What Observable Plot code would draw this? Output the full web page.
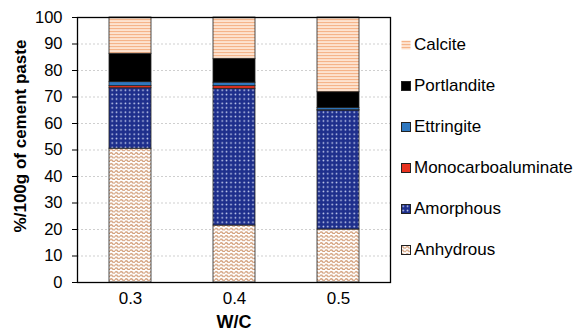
<!DOCTYPE html>
<html><head><meta charset="utf-8">
<script src="https://cdn.jsdelivr.net/npm/d3@7"></script>
<script src="https://cdn.jsdelivr.net/npm/@observablehq/plot@0.6"></script>
<style>
html,body{margin:0;padding:0;background:#fff;}
#wrap{position:relative;width:580px;height:333px;font-family:"Liberation Sans",Arial,sans-serif;}
#legend{position:absolute;left:401px;top:0;}
.item{position:absolute;left:0;display:flex;align-items:center;white-space:nowrap;font-size:17px;color:#000;transform:translateY(-50%);}
.item svg{margin-right:3px;}
.ttl{position:absolute;font-weight:bold;color:#000;white-space:nowrap;}
</style></head>
<body><div id="wrap"></div>
<script>
const wc = ["0.3", "0.4", "0.5"];
const phases = ["Anhydrous", "Amorphous", "Monocarboaluminate", "Ettringite", "Portlandite", "Calcite"];
const anhydrous = [50.5, 21.5, 20.0];
const amorphous = [22.8, 51.6, 44.9];
const monocarboaluminate = [0.8, 1.0, 0.1];
const ettringite = [1.5, 1.3, 0.8];
const portlandite = [10.7, 9.0, 6.0];
const calcite = [13.7, 15.6, 28.2];
const yTicks = [0, 10, 20, 30, 40, 50, 60, 70, 80, 90, 100];

const series = [anhydrous, amorphous, monocarboaluminate, ettringite, portlandite, calcite];
const data = [];
wc.forEach((w, i) => phases.forEach((p, j) => data.push({wc: w, phase: p, value: series[j][i]})));
const patIds = ["pAnh", "pAmo", "pMono", "pEtt", "pPort", "pCal"];

const svg = Plot.plot({
  width: 580, height: 333,
  marginLeft: 77, marginRight: 190, marginTop: 17, marginBottom: 51,
  style: {fontFamily: '"Liberation Sans", Arial, sans-serif', fontSize: "16px", color: "#000", background: "#fff"},
  x: {domain: wc, paddingInner: 0.6, paddingOuter: 0.3, label: null},
  y: {domain: [0, 100], label: null},
  color: {domain: phases, range: patIds.map(id => `url(#${id})`)},
  marks: [
    Plot.ruleY(yTicks.filter(t => t > 0 && t < 100), {stroke: "#cfcfcf", strokeDasharray: "2,2", strokeWidth: 1}),
    Plot.barY(data, {x: "wc", y: "value", fill: "phase", order: phases, stroke: "#222", strokeWidth: 0.8, inset: 0}),
    Plot.frame({stroke: "#000", strokeWidth: 1.3}),
    Plot.axisY({ticks: yTicks, tickSize: 5, tickPadding: 10, label: null, stroke: "#000", fontSize: 16.5}),
    Plot.axisX({tickSize: 0, tickPadding: 9, label: null, fontSize: 17})
  ]
});

d3.select(svg).insert("defs", ":first-child").html(`
  <pattern id="pCal" patternUnits="userSpaceOnUse" width="4" height="3">
    <rect width="4" height="3" fill="#fde3d0"/>
    <rect y="1" width="4" height="1.1" fill="#f5b48a"/>
  </pattern>
  <pattern id="pAnh" patternUnits="userSpaceOnUse" width="5" height="3.6">
    <rect width="5" height="3.6" fill="#fff"/>
    <path d="M0,2.4 Q1.25,0.6 2.5,2.4 T5,2.4" fill="none" stroke="#d29d78" stroke-width="1.4"/>
  </pattern>
  <pattern id="pAmo" patternUnits="userSpaceOnUse" width="4.4" height="4.4">
    <rect width="4.4" height="4.4" fill="#1e2f8c"/>
    <circle cx="2.2" cy="2.2" r="0.85" fill="#d0d8f5"/>
  </pattern>
  <pattern id="pMono" patternUnits="userSpaceOnUse" width="4" height="4">
    <rect width="4" height="4" fill="#e8321f"/>
  </pattern>
  <pattern id="pEtt" patternUnits="userSpaceOnUse" width="4" height="4">
    <rect width="4" height="4" fill="#2f78c0"/>
  </pattern>
  <pattern id="pPort" patternUnits="userSpaceOnUse" width="4" height="4">
    <rect width="4" height="4" fill="#000"/>
  </pattern>
`);
d3.select(svg).selectAll("text").attr("fill", "#000");

const wrap = document.getElementById("wrap");
wrap.appendChild(svg);

// axis titles
const yt = document.createElement("div");
yt.className = "ttl";
yt.textContent = "%/100g of cement paste";
yt.style.fontSize = "17px";
yt.style.left = "21px"; yt.style.top = "136px";
yt.style.transform = "translate(-50%,-50%) rotate(-90deg)";
wrap.appendChild(yt);
const xt = document.createElement("div");
xt.className = "ttl";
xt.textContent = "W/C";
xt.style.fontSize = "18px";
xt.style.left = "234px"; xt.style.top = "322px";
xt.style.transform = "translate(-50%,-50%)";
wrap.appendChild(xt);

// legend
const legend = document.createElement("div");
legend.id = "legend";
wrap.appendChild(legend);
const legendOrder = [...phases].reverse();
const legendY = [45, 86, 127, 168, 209, 250];
legendOrder.forEach((p, k) => {
  const j = phases.indexOf(p);
  const it = document.createElement("div");
  it.className = "item";
  it.style.top = legendY[k] + "px";
  const border = p === "Calcite" ? "none" : "#222";
  it.innerHTML = `<svg width="10" height="10"><rect x="0.5" y="0.5" width="9" height="9" fill="url(#${patIds[j]})" stroke="${border}" stroke-width="1"/></svg><span>${p}</span>`;
  legend.appendChild(it);
});
</script></body></html>
